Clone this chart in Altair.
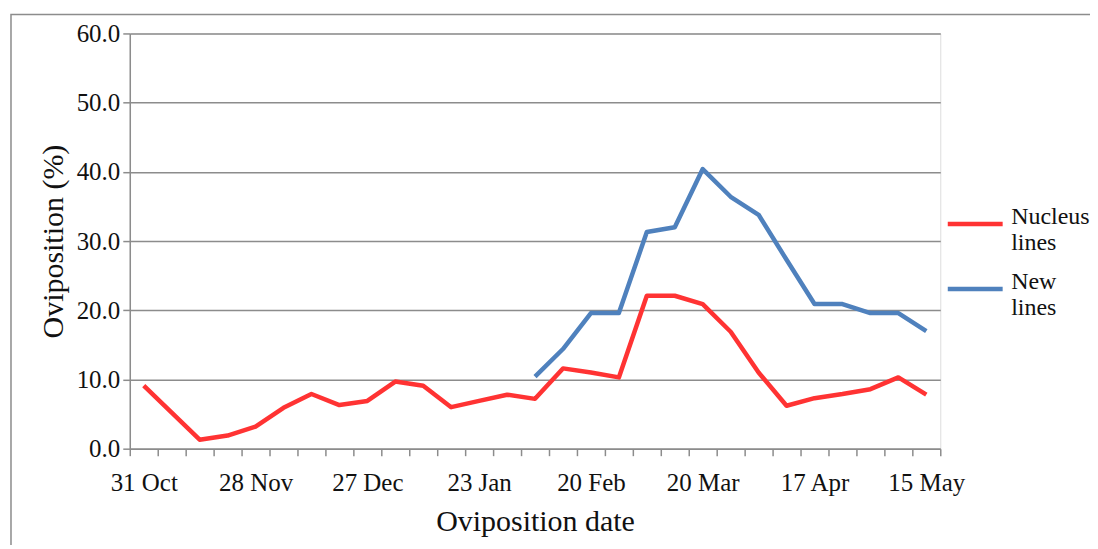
import altair as alt
import pandas as pd

# x categories: 29 sampling dates (index), labelled every 4th
tick_labels = ["31 Oct", "28 Nov", "27 Dec", "23 Jan", "20 Feb", "20 Mar", "17 Apr", "15 May"]
n_cat = 29

nucleus = [9.1, 5.2, 1.3, 1.9, 3.2, 5.9, 7.9, 6.3, 6.9, 9.7, 9.1, 6.0, 6.9, 7.8, 7.2,
           11.6, 11.0, 10.3, 22.1, 22.1, 20.9, 16.9, 11.0, 6.2, 7.3, 7.9, 8.6, 10.3, 7.8]
new_start = 14
new_lines = [10.4, 14.4, 19.6, 19.6, 31.3, 32.0, 40.4, 36.4, 33.8, 27.3, 20.9, 20.9, 19.6, 19.6, 17.0]

series_names = ["Nucleus lines", "New lines"]
series_colors = ["#FF3333", "#4F81BD"]

rows = []
for i, v in enumerate(nucleus):
    rows.append({"idx": i + 0.5, "value": v, "series": series_names[0]})
for j, v in enumerate(new_lines):
    rows.append({"idx": new_start + j + 0.5, "value": v, "series": series_names[1]})
df = pd.DataFrame(rows)

W, H = 812, 416
FONT = "Liberation Serif"
GRAY = "#8c8c8c"
TXT = "#111111"

label_arr = "[" + ",".join("'%s'" % s for s in tick_labels) + "]"
label_expr = f"datum.value % 4 == 0 && datum.value < {n_cat} ? {label_arr}[datum.value / 4] : ''"

x = alt.X(
    "idx:Q",
    scale=alt.Scale(domain=[0, n_cat], nice=False, zero=False),
    axis=alt.Axis(
        values=list(range(n_cat + 1)),
        labelExpr=label_expr,
        labelOffset=W / n_cat / 2,
        title="Oviposition date",
        grid=False,
        tickSize=7,
        tickColor=GRAY,
        domainColor=GRAY,
        tickWidth=1.5,
        domainWidth=1.5,
        labelFont=FONT,
        labelFontSize=25,
        labelColor=TXT,
        labelPadding=15,
        titleFont=FONT,
        titleFontSize=30,
        titleFontWeight="normal",
        titleColor=TXT,
        titlePadding=11,
        labelFlush=False,
        labelOverlap=False,
    ),
)

y = alt.Y(
    "value:Q",
    scale=alt.Scale(domain=[0, 60], nice=False),
    axis=alt.Axis(
        values=[0, 10, 20, 30, 40, 50, 60],
        format=".1f",
        title="Oviposition (%)",
        grid=True,
        gridColor=GRAY,
        gridWidth=1.5,
        tickSize=7,
        tickColor=GRAY,
        tickWidth=1.5,
        domainColor=GRAY,
        domainWidth=1.5,
        labelFont=FONT,
        labelFontSize=25,
        labelColor=TXT,
        labelPadding=3,
        titleFont=FONT,
        titleFontSize=30,
        titleFontWeight="normal",
        titleColor=TXT,
        titlePadding=8,
    ),
)

lines = alt.Chart(df).mark_line(strokeWidth=4.5, strokeJoin="round").encode(
    x=x,
    y=y,
    color=alt.Color(
        "series:N",
        scale=alt.Scale(domain=series_names, range=series_colors),
        sort=series_names,
        legend=alt.Legend(
            title=None,
            orient="none",
            legendX=W + 5,
            legendY=161,
            symbolType="stroke",
            symbolStrokeWidth=4.5,
            symbolSize=3025,
            labelFont=FONT,
            labelFontSize=24,
            labelColor=TXT,
            labelBaseline="alphabetic",
            labelExpr="split(datum.label, ' ')",
            labelOffset=6,
            rowPadding=4,
            labelLimit=200,
        ),
    ),
    detail="series:N",
)

border = alt.Chart(pd.DataFrame({"k": [0]})).mark_rect(
    fill=None, stroke=GRAY, strokeWidth=1.5, clip=False
).encode(
    x=alt.value(-119), x2=alt.value(W + 200), y=alt.value(-19), y2=alt.value(H + 200)
)

chart = alt.layer(border, lines).properties(
    width=W,
    height=H,
    autosize=alt.AutoSizeParams(type="none"),
    padding={"left": 122, "top": 25, "right": 150, "bottom": 96},
).configure_view(stroke=None).configure(background="white")

chart.save("out.html", embed_options={"renderer": "svg", "actions": False})
